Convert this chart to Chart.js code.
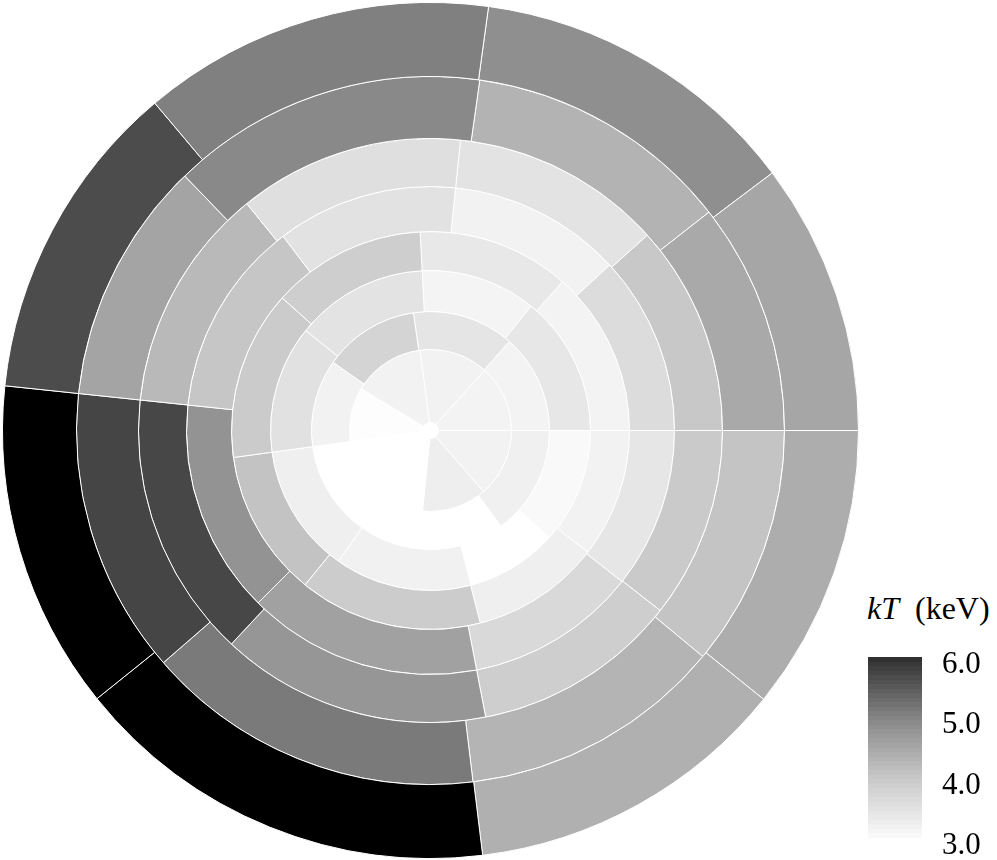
<!DOCTYPE html>
<html>
<head>
<meta charset="utf-8">
<title>kT map</title>
<script src="https://cdn.jsdelivr.net/npm/chart.js@4.4.1/dist/chart.umd.min.js"></script>
<style>
  html, body { margin: 0; padding: 0; background: #fff; }
  body { width: 997px; height: 860px; position: relative; overflow: hidden; }
  #mapBox { position: absolute; left: 2px; top: 2px; }
  #barBox { position: absolute; left: 860px; top: 645px; }
  #barTitle { position: absolute; left: 867px; top: 592px; font: 32px/32px 'Liberation Serif', serif; color: #000; white-space: nowrap; }
</style>
</head>
<body>
<div id="mapBox"><canvas id="mapChart" width="857" height="857"></canvas></div>
<div id="barTitle"><i>kT</i>&nbsp;&nbsp;(keV)</div>
<div id="barBox"><canvas id="barChart" width="137" height="215"></canvas></div>
<script>
// radial bin edges (px from the centre), innermost first
var ringEdges = [8, 81, 119, 160, 199, 244, 292, 354, 428];

// sector edges of each ring, degrees clockwise from 12 o'clock,
// and the temperature of the sector that starts at that edge
var ring1Edges = [352.5, 42, 90, 139, 185.7, 262.6, 301];
var ring1kT    = [3.17, 3.15, 3.17, 3.25, 2.95, 2.98, 3.17];

var ring2Edges = [351.7, 41.6, 90, 143.7, 262.2, 305];
var ring2kT    = [3.42, 3.15, 3.21, 2.95, 3.17, 3.76];

var ring3Edges = [357, 39, 90, 132, 165.3, 215.2, 262.2, 308.7];
var ring3kT    = [3.13, 3.38, 3.04, 2.95, 3.19, 3.23, 3.50, 3.46];

var ring4Edges = [357, 41.6, 90, 127.7, 165.5, 219.1, 262.2, 311.8];
var ring4kT    = [3.37, 3.15, 3.17, 3.23, 3.92, 4.08, 3.94, 3.88];

var ring5Edges = [5.9, 47.3, 90, 128.3, 169.1, 225, 276, 322.8];
var ring5kT    = [3.17, 3.60, 3.40, 3.66, 4.59, 4.79, 4.03, 3.48];

var ring6Edges = [5.9, 48, 90, 128.1, 169.1, 223, 276, 321];
var ring6kT    = [3.46, 4.00, 3.96, 3.88, 4.74, 5.72, 4.23, 3.54];

var ring7Edges = [8, 51.9, 90, 129.7, 173.1, 229, 276, 316];
var ring7kT    = [4.32, 4.47, 4.06, 4.30, 5.12, 5.74, 4.54, 4.93];

var ring8Edges = [7.8, 53, 90, 128.9, 173, 231.2, 276, 319.9];
var ring8kT    = [4.84, 4.51, 4.41, 4.36, 6.6, 6.6, 5.66, 5.05];

// grey colour scale (kT -> grey level)
var scaleKT   = [2.95, 3.0, 3.5, 4.0, 4.5, 5.0, 5.5, 6.0, 6.6];
var scaleGrey = [255, 251, 225, 200, 167, 132, 90, 46, 0];
var barTicks  = [3, 4, 5, 6];

function greyFor(kT) {
  var g;
  if (kT <= scaleKT[0]) {
    g = scaleGrey[0];
  } else if (kT >= scaleKT[scaleKT.length - 1]) {
    g = scaleGrey[scaleGrey.length - 1];
  } else {
    for (var i = 0; i < scaleKT.length - 1; i++) {
      if (kT <= scaleKT[i + 1]) {
        var f = (kT - scaleKT[i]) / (scaleKT[i + 1] - scaleKT[i]);
        g = scaleGrey[i] + f * (scaleGrey[i + 1] - scaleGrey[i]);
        break;
      }
    }
  }
  g = Math.round(g);
  return 'rgb(' + g + ',' + g + ',' + g + ')';
}

function spans(edges) {
  var out = [];
  for (var i = 0; i < edges.length; i++) {
    var next = edges[(i + 1) % edges.length];
    out.push(((next - edges[i]) % 360 + 360) % 360);
  }
  return out;
}

// Chart.js draws dataset 0 as the outer ring
var rings = [
  [ring8Edges, ring8kT],
  [ring7Edges, ring7kT],
  [ring6Edges, ring6kT],
  [ring5Edges, ring5kT],
  [ring4Edges, ring4kT],
  [ring3Edges, ring3kT],
  [ring2Edges, ring2kT],
  [ring1Edges, ring1kT]
];

var datasets = [];
for (var k = 0; k < rings.length; k++) {
  var n = rings.length - k; // ring number, 8 .. 1
  datasets.push({
    data: spans(rings[k][0]),
    backgroundColor: rings[k][1].map(greyFor),
    rotation: rings[k][0][0],
    weight: ringEdges[n] - ringEdges[n - 1],
    borderColor: '#ffffff',
    borderWidth: 1,
    hoverOffset: 0
  });
}

new Chart(document.getElementById('mapChart'), {
  type: 'doughnut',
  data: { datasets: datasets },
  options: {
    responsive: false,
    animation: false,
    events: [],
    cutout: ringEdges[0],
    layout: { padding: 0 },
    plugins: { legend: { display: false }, tooltip: { enabled: false } }
  }
});

// colour bar
var bands = 40;
new Chart(document.getElementById('barChart'), {
  type: 'bar',
  data: {
    labels: ['kT'],
    datasets: [{
      data: [[barTicks[0], barTicks[barTicks.length - 1]]],
      borderWidth: 0,
      barPercentage: 1,
      categoryPercentage: 1,
      backgroundColor: function(context) {
        var chart = context.chart;
        var area = chart.chartArea;
        if (!area) return null;
        var lo = barTicks[0], hi = barTicks[barTicks.length - 1];
        var g = chart.ctx.createLinearGradient(0, area.bottom, 0, area.top);
        for (var i = 0; i < bands; i++) {
          var c = greyFor(lo + (hi - lo) * (i + 0.5) / bands);
          g.addColorStop(i / bands, c);
          g.addColorStop((i + 1) / bands, c);
        }
        return g;
      }
    }]
  },
  options: {
    responsive: false,
    animation: false,
    events: [],
    layout: { padding: { left: 8, top: 12, right: 0, bottom: 22 } },
    plugins: { legend: { display: false }, tooltip: { enabled: false } },
    scales: {
      x: { display: false },
      y: {
        position: 'right',
        min: barTicks[0],
        max: barTicks[barTicks.length - 1],
        grid: { display: false, drawTicks: false },
        border: { display: false },
        afterBuildTicks: function(scale) {
          scale.ticks = barTicks.map(function(v) { return { value: v }; });
        },
        afterFit: function(scale) {
          scale.width = 75;
          scale.paddingTop = 0;
          scale.paddingBottom = 0;
        },
        ticks: {
          autoSkip: false,
          padding: 20,
          labelOffset: 8,
          color: '#000',
          font: { family: 'Liberation Serif', size: 31 },
          callback: function(v) { return Number(v).toFixed(1); }
        }
      }
    }
  }
});
</script>
</body>
</html>
